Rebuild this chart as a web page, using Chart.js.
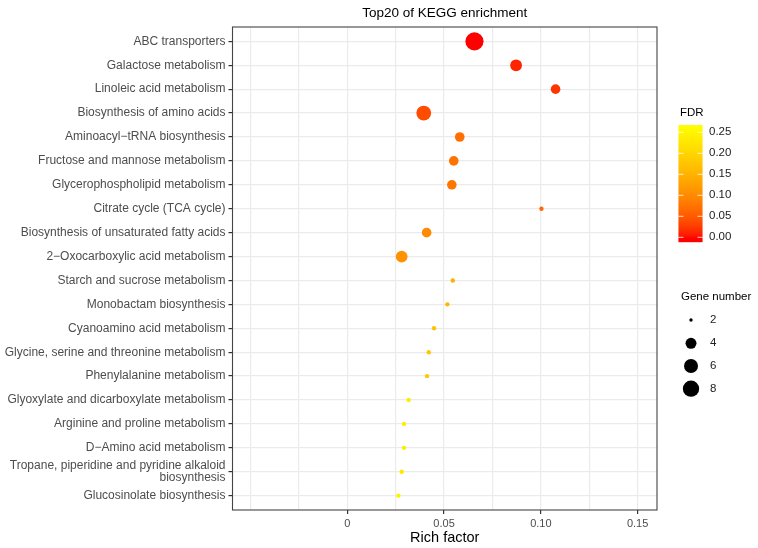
<!DOCTYPE html>
<html>
<head>
<meta charset="utf-8">
<script src="https://cdn.jsdelivr.net/npm/chart.js@4"></script>
<style>
  body { margin: 0; background: #fff; }
</style>
</head>
<body>
<canvas id="chart" width="758" height="548"></canvas>
<script>
const pathways = [
  "ABC transporters",
  "Galactose metabolism",
  "Linoleic acid metabolism",
  "Biosynthesis of amino acids",
  "Aminoacyl\u2212tRNA biosynthesis",
  "Fructose and mannose metabolism",
  "Glycerophospholipid metabolism",
  "Citrate cycle (TCA cycle)",
  "Biosynthesis of unsaturated fatty acids",
  "2\u2212Oxocarboxylic acid metabolism",
  "Starch and sucrose metabolism",
  "Monobactam biosynthesis",
  "Cyanoamino acid metabolism",
  "Glycine, serine and threonine metabolism",
  "Phenylalanine metabolism",
  "Glyoxylate and dicarboxylate metabolism",
  "Arginine and proline metabolism",
  "D\u2212Amino acid metabolism",
  ["Tropane, piperidine and pyridine alkaloid", "biosynthesis"],
  "Glucosinolate biosynthesis",
];
const richFactor = [0.0657, 0.0872, 0.1076, 0.0395, 0.0581, 0.0550, 0.0540, 0.1003, 0.0410, 0.0281,
  0.0545, 0.0517, 0.0448, 0.0421, 0.0412, 0.0317, 0.0293, 0.0293, 0.0281, 0.0264];
const geneNumber = [9, 4, 3, 6, 3, 3, 3, 2, 3, 4, 2, 2, 2, 2, 2, 2, 2, 2, 2, 2];
const fdr = [0.000, 0.012, 0.022, 0.040, 0.070, 0.075, 0.078, 0.065, 0.100, 0.110,
  0.150, 0.158, 0.172, 0.180, 0.182, 0.240, 0.238, 0.238, 0.232, 0.248];

const xGridValues = [-0.05, -0.025, 0, 0.025, 0.05, 0.075, 0.1, 0.125, 0.15];
const xLabelValues = [0, 0.05, 0.1, 0.15];
const xLabelText = ["0", "0.05", "0.10", "0.15"];
const fdrTicks = [0, 0.05, 0.1, 0.15, 0.2, 0.25];
const fdrTickText = ["0.00", "0.05", "0.10", "0.15", "0.20", "0.25"];
const sizeLegend = [2, 4, 6, 8];

const FDR_MAX = 0.267;
const FONT = "'Liberation Sans', Arial, sans-serif";

// red -> yellow, roughly like ggplot's Lab gradient
function fdrColor(v) {
  let t = Math.min(Math.max(v / FDR_MAX, 0), 1);
  let g = Math.round(255 * Math.pow(t, 0.63));
  return `rgb(255, ${g}, 0)`;
}

function geneRadius(g) {
  return 2.2 + 2.6 * Math.sqrt(Math.max(g - 2, 0));
}

function xLabelIndex(v) {
  return xLabelValues.findIndex((l) => Math.abs(l - v) < 1e-9);
}

const extras = {
  id: "extras",
  afterDraw(chart) {
    const ctx = chart.ctx;
    const a = chart.chartArea;
    ctx.save();

    // panel border
    ctx.strokeStyle = "#444";
    ctx.lineWidth = 1.1;
    ctx.strokeRect(a.left, a.top, a.right - a.left, a.bottom - a.top);

    // title
    ctx.fillStyle = "#000";
    ctx.font = `13.5px ${FONT}`;
    ctx.textAlign = "center";
    ctx.textBaseline = "middle";
    ctx.fillText("Top20 of KEGG enrichment", (a.left + a.right) / 2, 13);

    // x axis title
    ctx.font = `14.5px ${FONT}`;
    ctx.fillText("Rich factor", (a.left + a.right) / 2, 538);

    // FDR colorbar
    const bx = 678.5, bw = 24, bTop = 125, bBot = 241.7;
    const y0 = 237.3, y25 = 132.3;
    const yOf = (v) => y0 + (y25 - y0) * (v / 0.25);
    ctx.textAlign = "left";
    ctx.font = `11.5px ${FONT}`;
    ctx.fillStyle = "#000";
    ctx.fillText("FDR", 680, 113);
    for (let y = bTop; y < bBot; y += 1) {
      const v = (y0 - y) / (y0 - y25) * 0.25;
      ctx.fillStyle = fdrColor(v);
      ctx.fillRect(bx, y, bw, 1.2);
    }
    ctx.strokeStyle = "rgba(255,255,255,0.8)";
    ctx.lineWidth = 1;
    ctx.fillStyle = "#222";
    fdrTicks.forEach((v, i) => {
      const y = yOf(v);
      ctx.beginPath();
      ctx.moveTo(bx, y); ctx.lineTo(bx + 5, y);
      ctx.moveTo(bx + bw - 5, y); ctx.lineTo(bx + bw, y);
      ctx.stroke();
      ctx.fillText(fdrTickText[i], 709, y);
    });

    // gene number legend
    ctx.fillStyle = "#000";
    ctx.fillText("Gene number", 681, 297);
    const ys = [320, 343.3, 366, 388.7];
    sizeLegend.forEach((g, i) => {
      ctx.fillStyle = "#000";
      ctx.beginPath();
      ctx.arc(691, ys[i], i === 0 ? 1.7 : geneRadius(g) - 0.4, 0, Math.PI * 2);
      ctx.fill();
      ctx.fillStyle = "#222";
      ctx.fillText(String(g), 710, ys[i]);
    });

    ctx.restore();
  },
};

new Chart(document.getElementById("chart"), {
  type: "scatter",
  data: {
    datasets: [
      {
        data: richFactor.map((r, i) => ({ x: r, y: i })),
        pointRadius: (c) => geneRadius(geneNumber[c.dataIndex]),
        pointHoverRadius: (c) => geneRadius(geneNumber[c.dataIndex]),
        pointBackgroundColor: (c) => fdrColor(fdr[c.dataIndex]),
        pointBorderWidth: 0,
        borderWidth: 0,
      },
    ],
  },
  options: {
    responsive: false,
    animation: false,
    events: [],
    layout: { padding: { top: 27, right: 101, left: 0, bottom: 0 } },
    plugins: {
      legend: { display: false },
      tooltip: { enabled: false },
    },
    scales: {
      x: {
        type: "linear",
        min: -0.0593,
        max: 0.160,
        afterBuildTicks: (s) => { s.ticks = xGridValues.map((v) => ({ value: v })); },
        afterFit: (s) => { s.height = 38; },
        border: { display: false },
        grid: {
          color: "#EBEBEB",
          lineWidth: 1.2,
          tickLength: 4,
          tickColor: (c) => (xLabelIndex(c.tick.value) >= 0 ? "#333" : "rgba(0,0,0,0)"),
        },
        ticks: {
          autoSkip: false,
          maxRotation: 0,
          padding: 3,
          color: "#4D4D4D",
          font: { family: FONT, size: 11 },
          callback: (v) => {
            const i = xLabelIndex(v);
            return i >= 0 ? xLabelText[i] : "";
          },
        },
      },
      y: {
        type: "linear",
        min: -0.6,
        max: 19.6,
        reverse: true,
        afterBuildTicks: (s) => { s.ticks = pathways.map((p, i) => ({ value: i })); },
        afterFit: (s) => { s.width = 232.5; },
        border: { display: false },
        grid: {
          color: "#EBEBEB",
          lineWidth: 1.2,
          tickLength: 4,
          tickColor: "#333",
        },
        ticks: {
          autoSkip: false,
          padding: 3,
          color: "#4D4D4D",
          font: { family: FONT, size: 12, lineHeight: 0.97 },
          callback: (v) => pathways[v],
        },
      },
    },
  },
  plugins: [extras],
});
</script>
</body>
</html>
